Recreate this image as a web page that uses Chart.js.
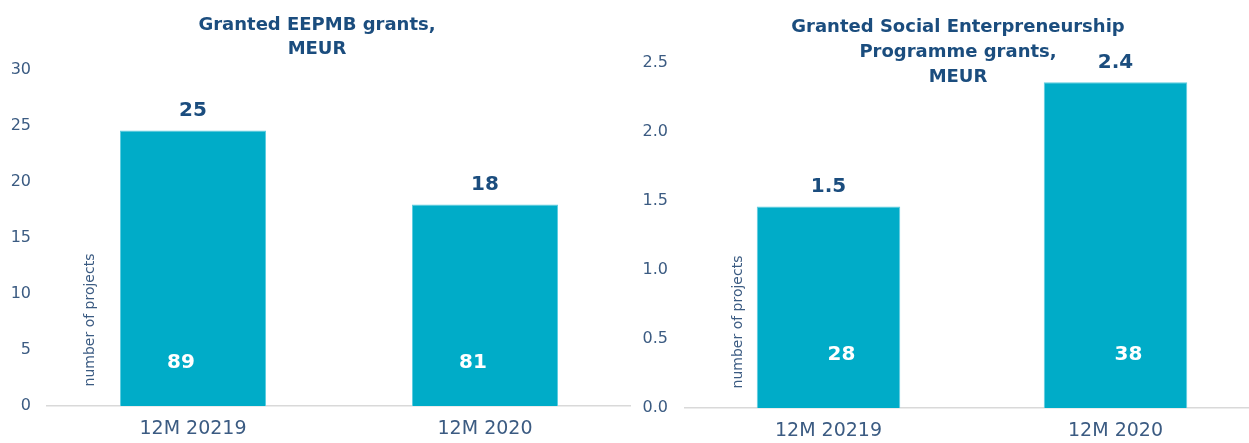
<!DOCTYPE html>
<html>
<head>
<meta charset="utf-8">
<script src="https://cdn.jsdelivr.net/npm/chart.js@4.4.1/dist/chart.umd.min.js"></script>
<style>
  html, body { margin: 0; padding: 0; background: #fff; overflow: hidden; }
  .wrap { position: absolute; top: 0; height: 443px; }
  #leftWrap { left: 0; width: 631px; }
  #rightWrap { left: 631px; width: 628px; }
</style>
</head>
<body>
<div class="wrap" id="leftWrap"><canvas id="eepmbChart"></canvas></div>
<div class="wrap" id="rightWrap"><canvas id="sepChart"></canvas></div>
<script>
// chart data
const categories = ['12M 20219', '12M 2020'];
const eepmbGrants = [24.6, 18.0];      // MEUR
const eepmbProjects = [89, 81];        // number of projects
const eepmbTicks = { min: 0, max: 30, step: 5 };
const sepGrants = [1.46, 2.36];        // MEUR
const sepProjects = [28, 38];
const sepTicks = { min: 0, max: 2.5, step: 0.5 };

const BAR = '#00acc8';
const TITLE = '#1b4d7e';
const TICK = '#3b5b82';
const FONT = "'DejaVu Sans', sans-serif";

// draws the title, bar value labels, project counts and the rotated note
function labelsPlugin(geo, values, projects) {
  return {
    id: 'labels_' + geo.name,
    afterDraw(chart) {
      const ctx = chart.ctx;
      const area = chart.chartArea;
      ctx.save();
      ctx.textAlign = 'center';
      ctx.textBaseline = 'middle';

      // title
      ctx.fillStyle = TITLE;
      ctx.font = 'bold 18px ' + FONT;
      geo.title.forEach((line, i) => ctx.fillText(line, geo.titleX, geo.titleY + i * geo.titleLH));

      chart.getDatasetMeta(0).data.forEach((bar, i) => {
        ctx.fillStyle = TITLE;
        ctx.font = 'bold 20px ' + FONT;
        ctx.fillText(geo.format(values[i]), bar.x, bar.y - 20);
        ctx.fillStyle = '#ffffff';
        ctx.font = 'bold 20px ' + FONT;
        ctx.fillText(String(projects[i]), bar.x + geo.innerDX, area.bottom - geo.innerDY);
      });

      // rotated note
      ctx.translate(area.left + geo.noteDX, area.bottom - 86);
      ctx.rotate(-Math.PI / 2);
      ctx.fillStyle = TICK;
      ctx.font = '14px ' + FONT;
      ctx.fillText('number of projects', 0, 0);
      ctx.restore();
    }
  };
}

function makeChart(id, values, projects, ticks, geo) {
  return new Chart(document.getElementById(id), {
    type: 'bar',
    data: {
      labels: categories,
      datasets: [{
        data: values,
        backgroundColor: BAR,
        borderColor: '#5fcde0',
        borderWidth: 1,
        barPercentage: 0.5,
        categoryPercentage: 1
      }]
    },
    options: {
      responsive: true,
      maintainAspectRatio: false,
      animation: false,
      layout: { padding: { top: geo.top, left: 0, right: 0, bottom: 0 } },
      plugins: {
        legend: { display: false },
        tooltip: { enabled: false }
      },
      scales: {
        x: {
          grid: { display: false, drawTicks: false },
          border: { display: true, color: '#d9d9d9', width: 1.5 },
          ticks: { color: TICK, font: { family: FONT, size: 19 }, padding: 12 },
          afterFit: s => { s.height = geo.xHeight; }
        },
        y: {
          min: ticks.min, max: ticks.max,
          grid: { display: false, drawTicks: false },
          border: { display: false },
          ticks: {
            stepSize: ticks.step, color: TICK, padding: geo.yPad,
            font: { family: FONT, size: 16 },
            callback: v => geo.tickFmt(Number(v))
          },
          afterFit: s => { s.width = geo.yWidth; }
        }
      }
    },
    plugins: [labelsPlugin(geo, values, projects)]
  });
}

makeChart('eepmbChart', eepmbGrants, eepmbProjects, eepmbTicks, {
  name: 'eepmb', top: 70, xHeight: 37, yWidth: 47, yPad: 16,
  title: ['Granted EEPMB grants,', 'MEUR'], titleX: 317, titleY: 25, titleLH: 24,
  format: v => v.toFixed(0), tickFmt: v => String(v),
  innerDX: -12, innerDY: 43, noteDX: 43
});

makeChart('sepChart', sepGrants, sepProjects, sepTicks, {
  name: 'sep', top: 63, xHeight: 35, yWidth: 54, yPad: 17,
  title: ['Granted Social Enterpreneurship', 'Programme grants,', 'MEUR'],
  titleX: 327, titleY: 27, titleLH: 25,
  format: v => v.toFixed(1), tickFmt: v => v.toFixed(1),
  innerDX: 13, innerDY: 53, noteDX: 53
});
</script>
</body>
</html>
